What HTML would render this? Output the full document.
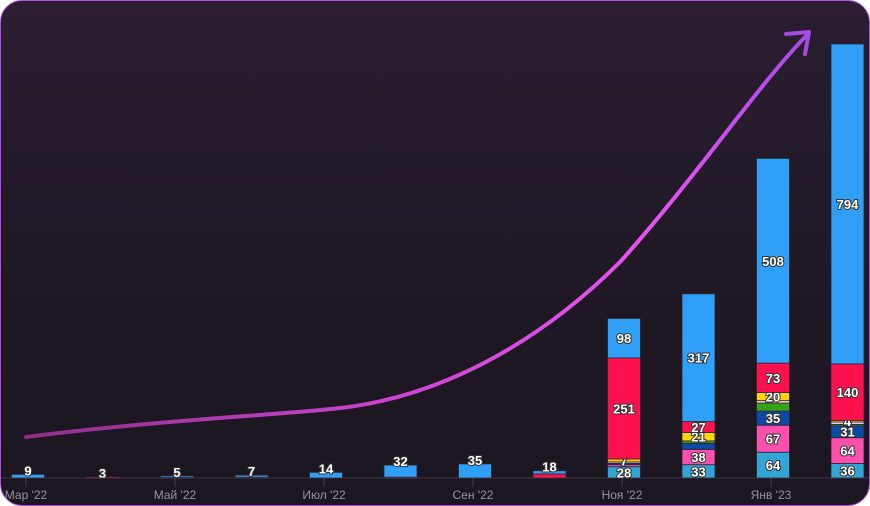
<!DOCTYPE html>
<html><head><meta charset="utf-8"><style>
html,body{margin:0;padding:0;background:#fff}
#card{position:relative;width:868px;height:504px;border:1px solid #b44ee0;border-radius:22px;overflow:hidden;background:linear-gradient(180deg,#2a1e30 0%,#1f1824 60%,#1b1620 100%)}
svg text{font-family:"Liberation Sans","DejaVu Sans",sans-serif}
</style></head><body>
<div id="card">
<svg id="chart" width="868" height="504">
<defs>
<linearGradient id="ag" x1="0" y1="0" x2="1" y2="0">
<stop offset="0" stop-color="#8e2f88"/><stop offset="0.5" stop-color="#d046d8"/><stop offset="0.8" stop-color="#e455f0"/><stop offset="1" stop-color="#a64ae8"/>
</linearGradient>
</defs>
<g id="bars"></g>
<line x1="0" y1="477" x2="868" y2="477" stroke="#3f3644" stroke-width="1"/>
<g id="xaxis"></g>
<path d="M25,436 C150,420 260,415 330,408 C440,398 540,340 620,260 C700,170 760,80 808,32" fill="none" stroke="url(#ag)" stroke-width="4" stroke-linecap="round"/>
<path d="M785,33 L808,31 L804,53" fill="none" stroke="#a64ae8" stroke-width="4" stroke-linecap="round" stroke-linejoin="round"/>
</svg>
</div>
<script>
const months=["Mar '22","Apr '22","May '22","Jun '22","Jul '22","Aug '22","Sep '22","Oct '22","Nov '22","Dec '22","Jan '23","Feb '23"];
const tickLabels=["Мар '22","","Май '22","","Июл '22","","Сен '22","","Ноя '22","","Янв '23",""];
const seriesColors=["#31a6d6","#ff4fae","#0b4aa6","#39a317","#f7c8ec","#ffd400","#ff1150","#2f9ff8"];
const cyanS =[0,0,0,0,0,0,0,0,28,33,64,36];
const pinkS =[0,0,0,0,0,2,0,0,5,38,67,64];
const dblueS=[0,0,0,0,0,0,0,0,5,15,35,31];
const greenS=[0,0,0,0,0,0,0,0,0,6,20,2];
const lpinkS=[0,0,0,0,0,0,0,0,2,0,6,6];
const yellS =[0,0,0,0,0,0,0,0,7,21,20,4];
const redS  =[0,3,2,2,0,0,0,10,251,27,73,140];
const blueS =[9,0,3,5,14,30,35,8,98,317,508,794];
const series=[cyanS,pinkS,dblueS,greenS,lpinkS,yellS,redS,blueS];
const totalLabelMonths=[1,1,1,1,1,1,1,1,0,0,0,0];
const minLabel=[0,0,0,0,0,0,0,0,7,21,20,4];
const skipSeries=[3,4];
const NS="http://www.w3.org/2000/svg";
const x0=27,step=74.5,bw=33,base=477,ky=0.403;
const xs=i=>x0+i*step;
const ys=v=>base-v*ky;
const g=document.getElementById('bars');
function txt(x,y,s,parent,size){
 const t=document.createElementNS(NS,'text');
 t.setAttribute('x',x);t.setAttribute('y',y);t.setAttribute('text-anchor','middle');
 t.setAttribute('font-size',size||13);t.setAttribute('font-weight','bold');
 t.setAttribute('fill','#fff');t.setAttribute('stroke','#333');t.setAttribute('stroke-width','2');t.setAttribute('paint-order','stroke');
 t.textContent=s;parent.appendChild(t);return t;
}
months.forEach((m,i)=>{
 let cum=0,tot=0;
 series.forEach(s=>tot+=s[i]);
 series.forEach((s,k)=>{
  const v=s[i]; if(!v) return;
  const r=document.createElementNS(NS,'rect');
  r.setAttribute('x',xs(i)-bw/2);r.setAttribute('y',ys(cum+v));
  r.setAttribute('width',bw);r.setAttribute('height',Math.max(v*ky,1.5));
  r.setAttribute('fill',seriesColors[k]);r.setAttribute('stroke','#2a2430');r.setAttribute('stroke-width','0.8');
  
  
  g.appendChild(r);
  if(!totalLabelMonths[i] && v>=minLabel[i] && !skipSeries.includes(k)){
   const t=txt(xs(i),ys(cum+v/2)+5,v,g);
   
   
  }
  cum+=v;
 });
 if(totalLabelMonths[i]){
  const t=txt(xs(i),ys(tot)+1,tot,g);
  
  
 }
});
const xa=document.getElementById('xaxis');
tickLabels.forEach((l,i)=>{
 if(!l) return;
 const ln=document.createElementNS(NS,'line');
 ln.setAttribute('x1',xs(i)-2);ln.setAttribute('x2',xs(i)-2);ln.setAttribute('y1',477);ln.setAttribute('y2',486);ln.setAttribute('stroke','#4a4150');
 
 
 xa.appendChild(ln);
 const t=document.createElementNS(NS,'text');
 t.setAttribute('x',xs(i)-2);t.setAttribute('y',498);t.setAttribute('text-anchor','middle');t.setAttribute('font-size','12');t.setAttribute('fill','#9a92a0');
 
 
 t.textContent=l;xa.appendChild(t);
});
</script>
</body></html>
